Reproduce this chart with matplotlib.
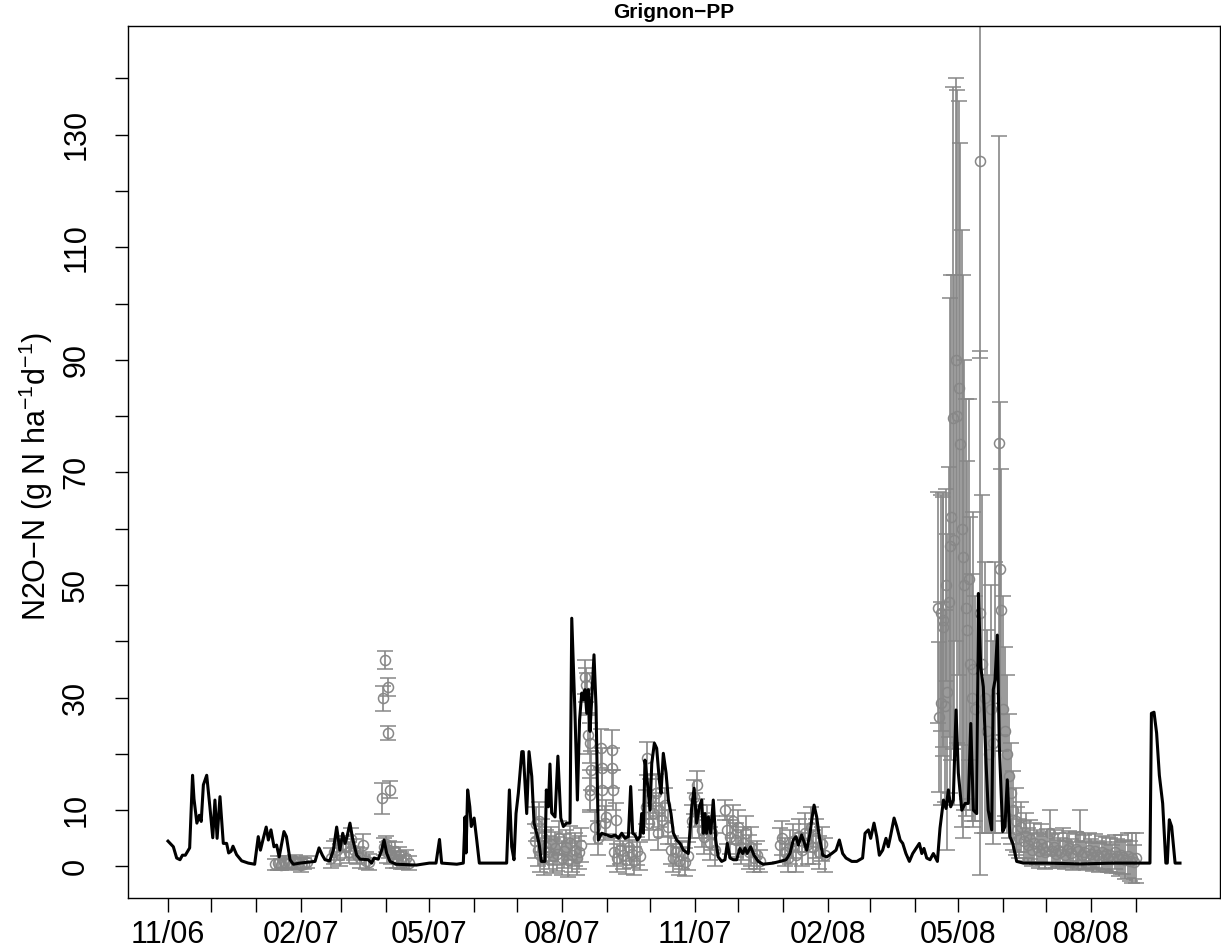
import matplotlib
matplotlib.use("Agg")
import matplotlib.pyplot as plt
import numpy as np

plt.rcParams.update({
    'font.family': ['Liberation Sans', 'DejaVu Sans'],
    'mathtext.fontset': 'custom', 'mathtext.rm': 'Liberation Sans',
    'mathtext.it': 'Liberation Sans:italic', 'mathtext.bf': 'Liberation Sans:bold',
    'axes.linewidth': 1.0,
    'xtick.major.size': 10, 'ytick.major.size': 9.5,
    'xtick.major.width': 1.0, 'ytick.major.width': 1.0,
})

# simulated flux, days since 2006-11-01
sim_day = [0, 3.7, 6, 8.3, 10, 12, 15, 17, 18, 20, 21.7, 23, 24.5, 26.8, 29, 31, 32.5, 34, 36, 38.3,
           40.6, 42, 43.7, 45, 47.5, 51, 55.6, 60, 62.5, 64, 66, 68, 69.5, 71.3, 73.4, 75.2, 77, 80.3, 82,
           84.5, 86.8, 91.4, 101.8, 104.6, 106.9, 108.7, 112, 114.5, 116.8, 119, 121, 122.6, 124, 126, 128,
           130.7, 133, 138.7, 141, 142.7, 145.6, 148, 149.6, 151.4, 153.7, 158, 172, 181, 185.6, 188, 189.5,
           200, 204.5, 205.7, 206.4, 207.5, 209, 210, 212, 213.8, 215.6, 225, 234.5, 236.4, 238, 239.6, 241,
           242.6, 245, 246, 248.4, 250, 251.9, 253.5, 255.3, 257, 258.5, 261, 262, 263.4, 264.5, 265.7, 268,
           270, 272, 273.8, 276, 278.4, 279.6, 281.9, 283.5, 285, 286.5, 287.6, 288.8, 290, 291, 292.2, 293.4,
           295, 296.4, 298, 300.3, 303.8, 307, 309.6, 311.9, 314.2, 316.5, 318.8, 320.4, 321.8, 323.4, 325,
           326.9, 328, 329.2, 330.3, 332, 333.8, 335, 336.8, 338.4, 340.2, 341.4, 343, 344.9, 346.5, 348.3,
           350, 352.3, 354.6, 356.9, 360.3, 362.7, 364.3, 366.1, 367.9, 369.6, 370.7, 371.9, 373, 374.2,
           375.8, 377.6, 379.3, 381, 383.4, 385.7, 387.3, 389.2, 391.5, 393.8, 396, 398, 399.6, 401, 403.5,
           405.8, 408.8, 412, 419, 423.8, 428, 430.7, 433, 434.9, 436.5, 438.8, 440.4, 442.3, 444.6, 445.8,
           447.4, 449.2, 451, 453.4, 456.2, 459.6, 462.6, 464.9, 467.2, 469.5, 473.5, 477, 481, 482.7, 485,
           486.6, 488.9, 490.8, 492.6, 494.9, 497.2, 498.8, 500.5, 502.8, 504.6, 507, 508.8, 511, 513.4,
           515.7, 518, 520.3, 522, 523.5, 525.4, 527.7, 530, 532.8, 534.6, 537, 538.8, 540.4, 542, 543.8,
           545.7, 547.3, 549.7, 552, 554.2, 555.9, 557.7, 560, 561.2, 562.8, 564.6, 566.5, 568, 570.4, 571.5,
           572.7, 574.3, 575.7, 578, 579.6, 581.2, 583, 585, 587.7, 592.3, 608.5, 631.6, 654.6, 680, 681,
           682.8, 684.6, 686.5, 688.8, 691, 692, 693.4, 695, 697.4, 700.8]
sim_val = [4.5, 3.5, 1.5, 1.2, 2.0, 2.0, 3.3, 16.2, 12, 7.7, 9.1, 8, 14.5, 16.2, 10.6, 5.1, 11.8, 5, 12.4, 4.1,
           4.1, 2.4, 2.7, 3.6, 2.1, 1.0, 0.6, 0.4, 5.3, 2.9, 5.0, 7.0, 4.7, 6.5, 3.5, 3.8, 1.7, 6.2, 5.3,
           1.2, 0.4, 0.6, 0.9, 3.3, 2.0, 1.2, 1.0, 2.9, 7.0, 2.9, 5.9, 4.1, 5.3, 7.7, 4.7,
           2.0, 1.3, 1.2, 0.6, 1.5, 1.3, 2.9, 4.7, 2.4, 0.9, 0.4, 0.25, 0.6, 0.6, 4.8, 0.6,
           0.4, 0.6, 8.8, 2.4, 13.6, 10.6, 7.1, 8.6, 4.7, 0.6, 0.6, 0.6, 13.6, 3.5, 1.2, 9.4,
           13.0, 20.4, 20.4, 9.4, 20.4, 16.0, 7.7, 5.9, 4.0, 0.9, 0.9, 13.6, 10.6, 18.2, 9.5, 8.8,
           19.6, 8.6, 7.1, 7.7, 7.7, 44.1, 26.6, 11.8, 26, 30.8, 29.6, 31.4, 27.2, 31.4, 24, 29.6,
           37.6, 28.4, 4.7, 5.9, 5.6, 5.3, 5.6, 5.0, 5.9, 5.0, 5.3, 14.2, 5.9, 5.6, 4.7,
           5.3, 9.4, 5.9, 18.9, 14.8, 10, 18.3, 21.9, 21, 15.4, 13, 20.1, 16.6, 11.8, 9.4,
           5.9, 4.7, 4.1, 2.9, 2.3, 10.6, 13.9, 7.7, 10.6, 11.8, 5.9, 9.4, 5.9, 8.8,
           5.9, 11.8, 4.7, 1.7, 0.9, 1.2, 4.1, 1.5, 1.2, 1.2, 3.2, 2.3, 3.3, 2.3, 3.5,
           2.0, 0.9, 0.4, 0.6, 0.9, 1.2, 2.3, 4.7, 5.3, 3.8, 5.6, 4.4, 2.9, 5.9, 8.3,
           10.9, 8.8, 5.3, 2.0, 1.7, 2.3, 2.9, 4.7, 2.3, 1.5, 0.9, 0.9, 1.5, 5.9, 6.5,
           5.0, 7.7, 5.3, 2.0, 2.9, 5.0, 3.5, 5.6, 8.6, 7.1, 4.7, 4.1, 2.3, 0.9,
           2.3, 3.2, 4.1, 2.3, 3.2, 1.5, 1.2, 2.3, 0.9, 6.8, 11.8, 10.3, 13.6, 10.6, 11.8,
           27.8, 16.6, 10, 11.2, 11.2, 25.4, 10, 9.4, 48.5, 35.5, 31.9, 18.3, 10, 6.5, 31.4,
           33.1, 41.1, 21.3, 6.2, 7.1, 15.4, 5.3, 4.1, 0.9, 0.6, 0.6, 0.45, 0.6, 0.6, 27.2,
           27.4, 23.7, 16.2, 11.2, 0.6, 0.6, 8.3, 7.1, 0.6, 0.6]

# measured flux with error (days since 2006-11-01)
obs_day = [74, 76, 78, 80, 82, 84, 86, 88, 90, 92, 94, 96,
           113, 115, 117, 119, 121, 123, 125, 127, 129, 131, 133, 135, 137, 139,
           148.4, 149, 150.3, 152.6, 152.6, 153.7,
           149.5, 151, 152, 153, 154.5, 156, 157, 158.5, 160, 161.5, 163, 165, 167,
           254, 255, 256, 257, 257.5, 259, 260.5, 262, 263.5, 265, 266.5, 268, 269.5, 271, 272.5, 274,
           275.5, 277, 278.5, 280, 281.5, 283, 284.5, 286,
           288.5, 289.3, 290, 291, 292.5, 293, 292, 292.5, 300, 300.5, 300.8, 307.2, 307.5, 308,
           303.6, 310.5, 302.5, 296, 298,
           309, 311, 313, 315, 317, 319, 321, 323, 325, 327,
           331, 332, 333, 334, 336, 338, 339, 340, 342, 344, 346,
           348, 350, 352, 354, 356, 358, 360,
           363, 364.5, 365, 366.5, 367.5, 370, 371.5, 373, 375, 377, 379,
           386, 387, 389, 391, 393.5, 395, 397, 398, 400, 402, 404, 406, 408, 410,
           424, 425, 427, 429, 431, 433, 435, 437, 439, 441, 443, 445, 447, 449, 451, 453, 455,
           533.5, 534, 535, 535.5, 536.5, 537, 538, 538.5, 539.5, 540.5, 541.5, 542.5, 543.5, 544.5,
           545.5, 546.5, 547.5, 548.5, 549.5, 550.5, 551.5, 552.5, 553.5, 554.5, 555.5, 556.5, 557.5,
           559, 562.3, 562.6, 564, 565.5, 567, 568.5, 570, 571.5, 573, 575.5, 576, 576.8, 578, 579.5,
           581, 582.5, 584, 585.5, 587,
           588, 589.5, 591, 592.5, 594, 595.5, 597, 598.5, 600, 601.5, 603, 604.5, 606, 607.5, 609,
           610.5, 612, 613.5, 615, 616.5, 618, 619.5, 621, 622.5, 624, 625.5, 627, 628.5, 630, 631.5,
           633, 634.5, 636, 637.5, 639, 640.5, 642, 643.5, 645, 646.5, 648, 649.5, 651, 652.5, 654,
           655.5, 657, 658.5, 660, 661.5, 663, 664.5, 666, 667.5, 669, 670.5]
obs_val = [0.4, 0.6, 0.3, 0.8, 0.5, 0.7, 0.4, 0.9, 0.6, 0.3, 0.5, 0.8,
           1.5, 2.5, 3.0, 2.0, 4.0, 3.5, 2.5, 4.8, 3.0, 2.0, 1.5, 3.8, 1.0, 0.8,
           12.1, 29.9, 36.7, 31.9, 23.7, 13.6,
           3.5, 4.0, 2.5, 3.0, 2.0, 1.5, 2.8, 1.2, 2.0, 1.0, 0.8, 1.5, 0.6,
           4.5, 7.5, 3.0, 8.0, 2.0, 5.5, 1.5, 3.5, 2.5, 4.0, 1.8, 3.2, 2.2, 5.0, 1.5, 2.8,
           3.5, 1.2, 4.2, 2.0, 3.0, 1.5, 2.5, 3.8,
           33.6, 32.2, 30.8, 23.4, 21.9, 17.1, 13.6, 12.7, 21.0, 17.5, 13.6, 20.7, 17.5, 13.6,
           8.8, 8.3, 7.7, 7.0, 5.0,
           2.5, 1.5, 3.0, 2.0, 1.2, 3.5, 2.2, 1.0, 2.8, 1.8,
           10.5, 19.2, 7.7, 12.0, 9.5, 13.0, 6.0, 10.0, 8.3, 11.0, 7.0,
           3.0, 1.5, 2.5, 1.0, 2.0, 0.8, 1.8,
           8.0, 12.4, 10.0, 14.5, 8.0, 6.5, 5.3, 8.0, 4.1, 6.0, 3.0,
           10.0, 6.5, 5.3, 8.0, 4.7, 7.0, 3.5, 4.1, 6.0, 2.6, 3.5, 1.5, 2.0, 1.0,
           3.8, 5.0, 2.5, 1.5, 3.5, 4.5, 2.0, 5.5, 3.0, 6.0, 4.0, 7.0, 3.5, 5.0, 2.5, 4.0, 2.0,
           46.0, 26.6, 29.0, 45.0, 43.8, 42.6, 28.5, 50.0, 31.0, 47.0, 57.0, 62.0, 79.7, 58.0,
           90.0, 80.0, 85.0, 75.0, 60.0, 55.0, 50.0, 46.0, 42.0, 51.0, 36.0, 30.0, 35.0,
           28.0, 125.3, 45.0, 36.0, 30.0, 24.0, 20.0, 28.0, 22.0, 30.0, 75.2, 52.9, 45.6, 28.0, 24.0,
           20.0, 16.0, 13.0, 10.0, 8.0,
           6.5, 5.0, 7.0, 4.5, 5.5, 3.8, 4.8, 3.0, 4.2, 3.5, 2.8, 4.0, 3.2, 2.5, 3.6,
           6.0, 2.8, 3.4, 2.2, 3.0, 2.6, 3.8, 2.0, 2.9, 3.3, 2.4, 1.8, 3.1, 2.7, 5.5,
           2.1, 2.6, 1.9, 3.0, 2.3, 1.7, 2.8, 2.0, 1.6, 2.5, 1.9, 2.2, 1.5, 2.0, 1.4,
           2.6, 1.8, 1.3, 2.1, 1.6, 1.2, 1.9, 1.0, 1.5, 0.8, 1.5]
obs_err = [1.0, 1.2, 1.0, 1.1, 1.0, 1.2, 1.0, 1.1, 1.0, 1.2, 1.0, 1.1,
           1.8, 2.0, 1.8, 2.0, 1.5, 2.0, 1.8, 2.0, 1.8, 1.5, 1.8, 2.0, 1.5, 1.5,
           2.8, 2.2, 1.6, 1.6, 1.2, 1.5,
           1.5, 1.5, 1.8, 1.5, 1.5, 1.8, 1.5, 1.5, 1.5, 1.5, 1.2, 1.5, 1.2,
           3.0, 3.0, 3.0, 3.5, 3.0, 3.0, 3.0, 3.0, 3.0, 3.0, 3.0, 3.0, 3.0, 3.0, 3.0, 3.0,
           3.0, 3.0, 3.0, 3.0, 3.0, 3.0, 3.0, 3.0,
           3.0, 3.0, 3.5, 3.5, 3.5, 3.5, 3.5, 3.0, 3.5, 3.5, 3.5, 3.5, 3.5, 3.5,
           3.0, 3.0, 3.0, 3.0, 3.0,
           2.5, 2.5, 2.5, 2.5, 2.5, 2.5, 2.5, 2.5, 2.5, 2.5,
           3.0, 3.0, 3.0, 3.5, 3.0, 3.5, 3.0, 3.0, 3.0, 3.0, 3.0,
           2.5, 2.5, 2.5, 2.5, 2.5, 2.5, 2.5,
           3.0, 3.0, 3.0, 2.5, 3.0, 3.0, 3.0, 3.0, 3.0, 3.0, 3.0,
           1.8, 2.5, 3.0, 3.0, 3.0, 3.0, 3.0, 3.0, 3.0, 3.0, 3.5, 2.5, 2.5, 2.0,
           3.0, 3.0, 2.5, 2.5, 3.0, 3.0, 3.0, 3.0, 3.0, 3.5, 3.5, 3.5, 3.0, 3.5, 3.0, 3.0, 3.0,
           20.6, 13.3, 18.0, 21.0, 22.5, 23.0, 17.0, 17.0, 28.0, 24.0, 44.0, 43.0, 58.8, 47.0,
           50.0, 58.0, 51.0, 53.5, 53.0, 50.0, 40.0, 37.0, 30.0, 32.0, 26.0, 22.0, 28.0,
           20.0, 35.0, 46.5, 30.0, 24.0, 18.0, 14.0, 22.0, 18.0, 24.0, 54.6, 29.6, 25.0, 20.0, 15.0,
           14.0, 11.0, 9.0, 7.0, 6.0,
           4.0, 3.5, 4.5, 3.5, 4.0, 3.0, 3.5, 3.0, 3.5, 3.0, 3.0, 3.5, 3.0, 3.0, 3.0,
           4.0, 3.0, 3.0, 2.5, 3.0, 2.5, 3.0, 2.5, 3.0, 3.0, 2.5, 2.5, 3.0, 3.0, 4.5,
           2.5, 3.0, 2.5, 3.0, 2.5, 2.5, 3.0, 2.5, 2.5, 3.0, 2.5, 3.0, 2.5, 3.0, 2.5,
           3.0, 3.0, 3.0, 3.5, 3.0, 3.5, 4.0, 3.5, 4.5, 3.0, 4.5]

grey = '#878787'

fig = plt.figure(figsize=(12.21, 9.52), dpi=100)
ax = fig.add_axes([128 / 1221, 54 / 952, 1092 / 1221, 872 / 952])

ax.errorbar(obs_day, obs_val, yerr=obs_err, fmt='o', mfc='none', mec=grey, mew=1.1,
            markersize=7.2, ecolor=grey, elinewidth=1.2, capsize=6, capthick=1.2, zorder=2)
ax.plot(sim_day, sim_val, color='black', lw=2.2, zorder=3)

ax.set_xlim(-27.7, 728.5)
ax.set_ylim(-5.6, 149.3)

# monthly ticks, labelled every third month
months = np.arange('2006-11', '2008-10', dtype='datetime64[M]')
mdays = (months.astype('datetime64[D]') - np.datetime64('2006-11-01')).astype(int)
mlabels = [str(m)[5:7] + '/' + str(m)[2:4] if i % 3 == 0 else '' for i, m in enumerate(months)]
ax.set_xticks(mdays)
ax.set_xticklabels(mlabels, fontsize=22)
ax.tick_params(axis='x', pad=6)

yt = np.arange(0, 141, 10)
ax.set_yticks(yt)
ax.set_yticklabels([str(v) if v in (0, 10, 30, 50, 70, 90, 110, 130) else '' for v in yt],
                   rotation=90, va='center', fontsize=22)
ax.tick_params(axis='y', pad=17)

ax.set_title('Grignon−PP', fontsize=15, fontweight='bold', pad=6)
fig.text(36 / 1221, 0.5, 'N2O−N (g N ha$^{-1}$d$^{-1}$)', rotation=90, fontsize=22,
         ha='center', va='center')

fig.savefig('out.png', dpi=100)
